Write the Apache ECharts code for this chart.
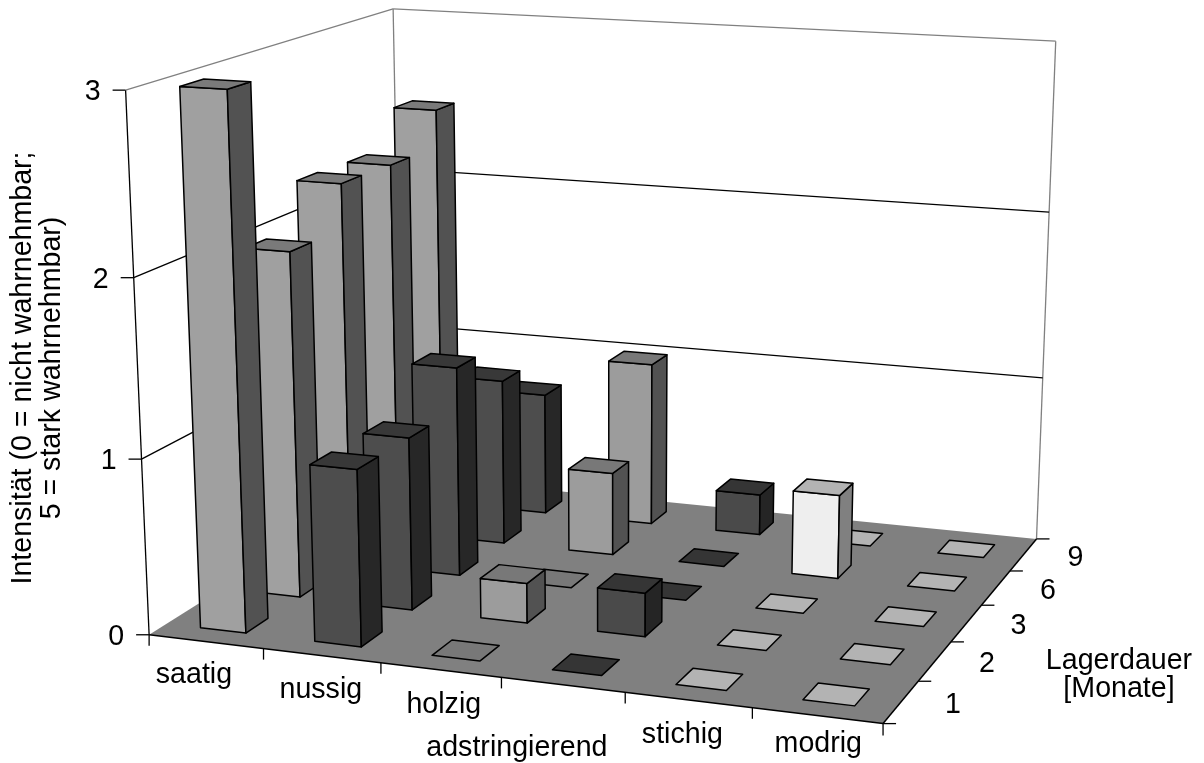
<!DOCTYPE html>
<html>
<head>
<meta charset="utf-8">
<style>
html, body { margin: 0; padding: 0; background: #fff; }
#chart { width: 1204px; height: 763px; }
</style>
<script src="https://cdn.jsdelivr.net/npm/echarts@6/dist/echarts.min.js"></script>
</head>
<body>
<div id="chart"></div>
<script>
var categories = ["saatig", "nussig", "holzig", "adstringierend", "stichig", "modrig"];
var months = ["1", "2", "3", "6", "9"];
var valueTicks = [0, 1, 2, 3];

// intensity per month, one list per attribute
var saatig = [3.0, 2.0, 2.26, 2.25, 2.47];
var nussig = [1.0, 1.0, 1.24, 1.0, 0.75];
var holzig = [0, 0.23, 0, 0.5, 1.0];
var adstringierend = [0, 0.25, 0, 0, 0.25];
var stichig = [0, 0, 0, 0.5, 0];
var modrig = [0, 0, 0, 0, 0];
var values = [saatig, nussig, holzig, adstringierend, stichig, modrig];

// front, top, side shade of each attribute
var shades = [
	["#a0a0a0", "#7a7a7a", "#525252"],
	["#4d4d4d", "#383838", "#272727"],
	["#9c9c9c", "#787878", "#525252"],
	["#4a4a4a", "#353535", "#252525"],
	["#eeeeee", "#b3b3b3", "#808080"],
	["#eeeeee", "#b3b3b3", "#808080"]
];

var FONT = '"Liberation Sans", Arial, sans-serif';
var maxValue = valueTicks[valueTicks.length - 1];
var barShare = 0.4; // gap width 150%

// picture position of known box points: [u, v, value, px, py]
var calibration = [
	[0, 0, 0, 149.3, 635], [1, 0, 0, 883, 723.3], [1, 1, 0, 1036.7, 539], [0, 1, 0, 402, 475],
	[0, 0, 1, 141.6, 459.4], [0, 0, 2, 133.4, 277.6], [0, 0, 3, 125.7, 90],
	[1, 1, 1, 1042.7, 378.3], [1, 1, 2, 1049, 212], [1, 1, 3, 1055.7, 41], [0, 1, 3, 393.3, 9]
];
// label anchor offsets from the tick band centre
var categoryOffset = [[-12, 33], [-1, 34], [3, 35], [-46, 63], [-6, 35], [1, 28]];
var monthOffset = [52, 3];

// least squares for the 3x4 camera matrix, last element fixed at 1
function fitCamera(points) {
	var n = 11, A = [], i, j, k;
	for (i = 0; i < n; i++) { A.push(new Array(n + 1).fill(0)); }
	points.forEach(function (p) {
		var u = p[0], v = p[1], z = p[2], x = p[3] / 1000, y = p[4] / 1000;
		var rows = [
			[u, v, z, 1, 0, 0, 0, 0, -x * u, -x * v, -x * z, x],
			[0, 0, 0, 0, u, v, z, 1, -y * u, -y * v, -y * z, y]
		];
		rows.forEach(function (r) {
			for (i = 0; i < n; i++) {
				for (j = 0; j <= n; j++) { A[i][j] += r[i] * r[j]; }
			}
		});
	});
	for (i = 0; i < n; i++) {
		var best = i;
		for (k = i + 1; k < n; k++) { if (Math.abs(A[k][i]) > Math.abs(A[best][i])) best = k; }
		var t = A[i]; A[i] = A[best]; A[best] = t;
		for (k = 0; k < n; k++) {
			if (k === i) continue;
			var f = A[k][i] / A[i][i];
			for (j = i; j <= n; j++) { A[k][j] -= f * A[i][j]; }
		}
	}
	return A.map(function (r, idx) { return r[n] / r[idx]; });
}
var cam = fitCamera(calibration);
function project(u, v, z) {
	var w = cam[8] * u + cam[9] * v + cam[10] * z + 1;
	return [
		1000 * (cam[0] * u + cam[1] * v + cam[2] * z + cam[3]) / w,
		1000 * (cam[4] * u + cam[5] * v + cam[6] * z + cam[7]) / w
	];
}
function poly(points, fill, stroke, width) {
	return {
		type: "polygon", shape: { points: points },
		style: { fill: fill, stroke: stroke || null, lineWidth: width || 0, lineJoin: "round" }
	};
}
function seg(a, b, color, width) {
	return {
		type: "line", shape: { x1: a[0], y1: a[1], x2: b[0], y2: b[1] },
		style: { stroke: color, lineWidth: width || 1.3 }
	};
}
function label(text, x, y, align) {
	return {
		type: "text",
		style: { text: text, x: x, y: y, fill: "#000", font: "28.6px " + FONT, align: align || "center", verticalAlign: "middle" }
	};
}

// painter's order: back row first, left to right inside a row
var barData = [];
for (var m = months.length - 1; m >= 0; m--) {
	for (var c = 0; c < categories.length; c++) {
		barData.push([c, m, values[c][m]]);
	}
}

function renderBar(params, api) {
	var cs = params.coordSys;
	var centre = api.coord([api.value(0), api.value(1)]);
	var size = api.size([1, 1]);
	var cat = api.value(0);
	var z = api.value(2);
	var du = size[0] / cs.width * barShare / 2;
	var dv = size[1] / cs.height * barShare / 2;
	var u = (centre[0] - cs.x) / cs.width;
	var v = (cs.y + cs.height - centre[1]) / cs.height;
	var s = shades[cat];
	var top = [project(u - du, v - dv, z), project(u + du, v - dv, z), project(u + du, v + dv, z), project(u - du, v + dv, z)];
	var children = [];
	if (z > 0) {
		children.push(poly([project(u - du, v - dv, 0), project(u + du, v - dv, 0), top[1], top[0]], s[0], "#000", 1.5));
		children.push(poly([project(u + du, v - dv, 0), project(u + du, v + dv, 0), top[2], top[1]], s[2], "#000", 1.5));
	}
	children.push(poly(top, s[1], "#000", 1.5));
	return { type: "group", children: children };
}

// grid lines on both walls, value ticks and labels
function renderWall(params, api) {
	var t = api.value(0);
	var a = project(0, 0, t), b = project(0, 1, t), c = project(1, 1, t);
	var color = t === maxValue ? "#808080" : "#000";
	var children = [label(String(t), a[0] - 25, a[1] + 2, "right"), seg([a[0] - 13, a[1]], a, "#000")];
	if (t > 0) {
		children.push(seg(a, b, color), seg(b, c, color));
	}
	return { type: "group", children: children };
}

function renderFrame() {
	var fl = project(0, 0, 0), fr = project(1, 0, 0), br = project(1, 1, 0), bl = project(0, 1, 0);
	return {
		type: "group",
		children: [
			seg(bl, project(0, 1, maxValue), "#808080"),
			seg(br, project(1, 1, maxValue), "#808080"),
			poly([fl, fr, br, bl], "#808080"),
			seg(fl, project(0, 0, maxValue), "#000")
		]
	};
}

// front and right floor edge, drawn over the floor
function renderEdges() {
	var fl = project(0, 0, 0), fr = project(1, 0, 0), br = project(1, 1, 0);
	return { type: "group", children: [seg(fl, fr, "#000", 1.5), seg(fr, br, "#000", 1.5)] };
}

function renderCategoryAxis(params, api) {
	var cs = params.coordSys;
	var i = api.value(0);
	var x = api.coord([i, 0])[0];
	var u = (x - cs.x) / cs.width;
	var du = api.size([1, 1])[0] / cs.width / 2;
	var left = project(u - du, 0, 0);
	var right = project(u + du, 0, 0);
	var mid = project(u, 0, 0);
	var off = categoryOffset[i];
	var children = [seg(left, [left[0], left[1] + 11], "#000"), label(categories[i], mid[0] + off[0], mid[1] + off[1])];
	if (i === categories.length - 1) {
		children.push(seg(right, [right[0], right[1] + 12], "#000"));
	}
	return { type: "group", children: children };
}

function renderMonthAxis(params, api) {
	var cs = params.coordSys;
	var i = api.value(0);
	var y = api.coord([0, i])[1];
	var v = (cs.y + cs.height - y) / cs.height;
	var dv = api.size([1, 1])[1] / cs.height / 2;
	var near = project(1, v - dv, 0);
	var far = project(1, v + dv, 0);
	var mid = project(1, v, 0);
	var children = [seg(near, [near[0] + 13, near[1]], "#000"), label(months[i], mid[0] + monthOffset[0], mid[1] + monthOffset[1])];
	if (i === months.length - 1) {
		children.push(seg(far, [far[0] + 13, far[1]], "#000"));
	}
	return { type: "group", children: children };
}

var chart = echarts.init(document.getElementById("chart"));
chart.setOption({
	animation: false,
	backgroundColor: "#fff",
	tooltip: { show: false },
	grid: { left: 0, right: 0, top: 0, bottom: 0 },
	xAxis: { type: "category", data: categories, show: false },
	yAxis: { type: "category", data: months, show: false },
	series: [
		{ type: "custom", silent: true, renderItem: renderFrame, data: [[0]] },
		{ type: "custom", silent: true, renderItem: renderWall, data: valueTicks.map(function (t) { return [t]; }), encode: { x: -1, y: -1 } },
		{ type: "custom", silent: true, renderItem: renderEdges, data: [[0]] },
		{ type: "custom", silent: true, renderItem: renderCategoryAxis, data: categories.map(function (n, i) { return [i]; }), encode: { x: 0, y: -1 } },
		{ type: "custom", silent: true, renderItem: renderMonthAxis, data: months.map(function (n, i) { return [i]; }), encode: { x: -1, y: 0 } },
		{ type: "custom", silent: true, renderItem: renderBar, data: barData, encode: { x: 0, y: 1 } }
	],
	graphic: [
		{
			type: "text", x: 38, y: 368, rotation: Math.PI / 2,
			style: { text: "Intensität (0 = nicht wahrnehmbar;\n5 = stark wahrnehmbar)", fill: "#000", font: "28.6px " + FONT, align: "center", verticalAlign: "middle", lineHeight: 29 }
		},
		{
			type: "text", x: 1119, y: 675,
			style: { text: "Lagerdauer\n[Monate]", fill: "#000", font: "28.6px " + FONT, align: "center", verticalAlign: "middle", lineHeight: 28 }
		}
	]
});
window.addEventListener("resize", function () { chart.resize(); });
</script>
</body>
</html>
